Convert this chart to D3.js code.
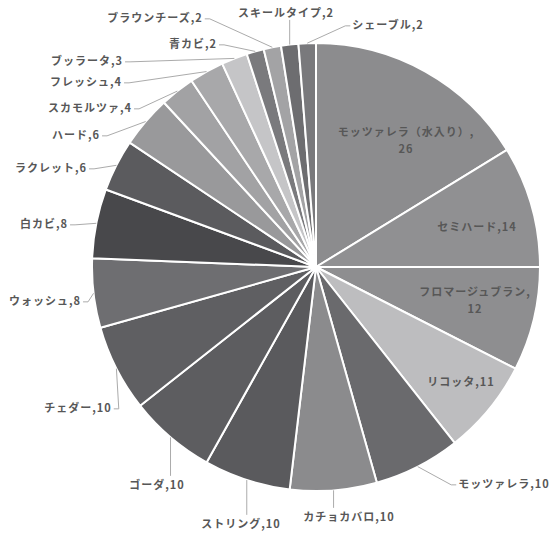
<!DOCTYPE html>
<html>
<head>
<meta charset="utf-8">
<script src="https://cdn.jsdelivr.net/npm/d3@7"></script>
<style>
  body { margin: 0; background: #fff; }
  text { font-family: "Noto Sans CJK JP", "Noto Sans", sans-serif; font-size: 11px; font-weight: 700; fill: #575757; letter-spacing: 1px; }
</style>
</head>
<body>
<svg id="chart" width="552" height="536"></svg>
<script>
var names = ["モッツァレラ（水入り）", "セミハード", "フロマージュブラン", "リコッタ", "モッツァレラ",
  "カチョカバロ", "ストリング", "ゴーダ", "チェダー", "ウォッシュ", "白カビ", "ラクレット", "ハード",
  "スカモルツァ", "フレッシュ", "ブッラータ", "青カビ", "ブラウンチーズ", "スキールタイプ", "シェーブル"];
var values = [26, 14, 12, 11, 10, 10, 10, 10, 10, 8, 8, 6, 6, 4, 4, 3, 2, 2, 2, 2];

var colors = ["#8c8c8e", "#909092", "#8e8e90", "#bdbdbf", "#6a6a6d", "#8b8b8d", "#5a5a5d", "#5d5d60",
  "#5f5f62", "#6e6e71", "#48484b", "#5b5b5e", "#99999b", "#a2a2a4", "#a8a8aa", "#c5c5c7",
  "#7a7a7d", "#a3a3a5", "#6d6d70", "#79797c"];

// where each data label sits (text centre), as placed in the original
var labelX = [406, 477, 475, 461, 504, 349, 241, 157, 78, 45, 44, 51, 76, 90, 86, 87, 193, 155, 286, 388];
var labelY = [132, 227, 292, 382, 484, 517, 524, 485, 408, 301, 224, 168, 135, 108, 82, 61, 44, 18, 13, 25];
var inside = [true, true, true, true];
var wrapped = [true, false, true];

var cx = 316, cy = 267, radius = 224;

var svg = d3.select("#chart");
var g = svg.append("g").attr("transform", "translate(" + cx + "," + cy + ")");

var pie = d3.pie().sort(null).value(function(d) { return d; });
var arcs = pie(values);

var arc = d3.arc().innerRadius(0).outerRadius(radius);
var edge = d3.arc().innerRadius(radius).outerRadius(radius);

g.selectAll("path.slice").data(arcs)
  .enter().append("path")
  .attr("class", "slice")
  .attr("d", arc)
  .attr("fill", function(d, i) { return colors[i]; })
  .attr("stroke", "#fff")
  .attr("stroke-width", 2)
  .attr("stroke-linejoin", "round");

var lineLayer = svg.append("g");
var labelLayer = svg.append("g");

var labels = labelLayer.selectAll("text").data(arcs)
  .enter().append("text")
  .attr("text-anchor", "middle")
  .attr("x", function(d, i) { return labelX[i]; })
  .attr("y", function(d, i) { return labelY[i]; })
  .attr("dy", "0.35em");

labels.each(function(d, i) {
  var t = d3.select(this);
  if (wrapped[i]) {
    t.append("tspan").attr("x", labelX[i]).text(names[i] + ",");
    t.append("tspan").attr("x", labelX[i]).attr("dy", 17).text(values[i]);
  } else {
    t.text(names[i] + "," + values[i]);
  }
});

// leader lines: Excel style, from slice edge to nearest side of the label
labels.each(function(d, i) {
  if (inside[i]) return;
  var b = this.getBBox();
  var a = edge.centroid(d);
  a = [a[0] + cx, a[1] + cy];
  var mid = b.y + b.height / 2 + 2;
  var pts;
  if (a[0] >= b.x && a[0] <= b.x + b.width) {
    var ey = a[1] > b.y + b.height ? b.y + b.height : b.y;
    pts = [a, [a[0], ey]];
  } else if (a[0] < b.x) {
    pts = [a, [b.x - 7, mid], [b.x - 2, mid]];
  } else {
    pts = [a, [b.x + b.width + 7, mid], [b.x + b.width + 2, mid]];
  }
  lineLayer.append("path")
    .attr("d", d3.line()(pts))
    .attr("fill", "none")
    .attr("stroke", "#ababab")
    .attr("stroke-width", 1);
});
</script>
</body>
</html>
